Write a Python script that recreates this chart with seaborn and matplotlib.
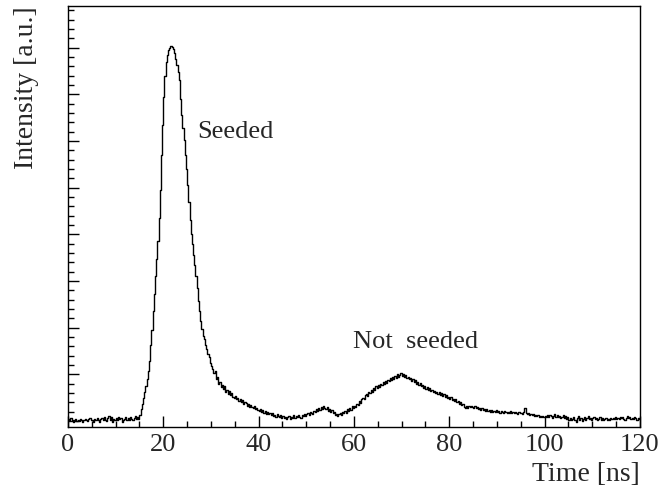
import numpy as np
import pandas as pd
import matplotlib
matplotlib.use("Agg")
import matplotlib.pyplot as plt
from matplotlib.ticker import MultipleLocator, NullFormatter
import seaborn as sns

# Time binning: 0.25 ns bins from 0 to 120 ns
bin_width = 0.25
t_min, t_max = 0.0, 120.0

# Measured intensity per bin [a.u.], one row per 5 ns (20 bins)
intensity = [
    # 0-15 ns: baseline
    0.04, 0.01, 0.06, 0.02, -0.02, 0.03, 0.05, 0.00, 0.03, -0.01, 0.04, 0.02, -0.03, 0.01, 0.05, 0.02, 0.00, 0.04, 0.06, 0.01,
    0.03, -0.02, 0.05, 0.02, 0.07, 0.01, -0.03, 0.04, 0.06, 0.02, 0.09, 0.03, 0.00, 0.07, 0.10, 0.02, 0.08, -0.02, 0.05, 0.01,
    0.06, 0.02, 0.09, 0.04, 0.07, -0.03, 0.01, 0.05, 0.08, 0.02, 0.06, 0.03, 0.09, 0.05, 0.02, 0.07, 0.11, 0.04, 0.08, 0.05,
    # 15-30 ns: seeded pulse
    0.12, 0.26, 0.36, 0.50, 0.62, 0.75, 0.90, 1.08, 1.28, 1.62, 1.95, 2.35, 2.72, 3.10, 3.48, 3.85, 4.35, 4.95, 5.70, 6.35,
    6.95, 7.40, 7.70, 7.85, 7.94, 8.00, 8.03, 8.01, 7.96, 7.88, 7.76, 7.62, 7.48, 7.30, 6.90, 6.55, 6.28, 6.02, 5.70, 5.40,
    5.05, 4.70, 4.30, 4.00, 3.80, 3.55, 3.35, 3.10, 2.85, 2.58, 2.35, 2.15, 1.98, 1.82, 1.75, 1.62, 1.55, 1.44, 1.36, 1.25,
    # 30-40 ns: tail
    1.18, 1.12, 1.02, 1.06, 0.90, 0.95, 0.80, 0.84, 0.72, 0.78, 0.68, 0.74, 0.63, 0.67, 0.58, 0.64, 0.55, 0.60, 0.52, 0.49,
    0.53, 0.46, 0.50, 0.43, 0.47, 0.40, 0.44, 0.36, 0.41, 0.38, 0.33, 0.37, 0.30, 0.34, 0.29, 0.27, 0.32, 0.25, 0.28, 0.24,
    # 40-60 ns
    0.22, 0.26, 0.19, 0.23, 0.17, 0.21, 0.15, 0.19, 0.14, 0.17, 0.12, 0.16, 0.10, 0.13, 0.09, 0.14, 0.11, 0.08, 0.12, 0.07,
    0.10, 0.06, 0.09, 0.04, 0.08, 0.11, 0.05, 0.09, 0.07, 0.12, 0.06, 0.10, 0.08, 0.13, 0.09, 0.07, 0.12, 0.10, 0.15, 0.11,
    0.14, 0.18, 0.13, 0.20, 0.17, 0.15, 0.22, 0.19, 0.25, 0.21, 0.27, 0.24, 0.30, 0.26, 0.32, 0.28, 0.25, 0.29, 0.22, 0.26,
    0.20, 0.23, 0.16, 0.19, 0.12, 0.15, 0.10, 0.14, 0.17, 0.12, 0.20, 0.16, 0.22, 0.18, 0.25, 0.21, 0.28, 0.24, 0.31, 0.27,
    # 60-90 ns: not seeded pulse
    0.33, 0.29, 0.37, 0.34, 0.42, 0.38, 0.46, 0.50, 0.47, 0.55, 0.58, 0.54, 0.62, 0.60, 0.66, 0.63, 0.70, 0.67, 0.74, 0.71,
    0.76, 0.73, 0.80, 0.77, 0.83, 0.79, 0.86, 0.82, 0.88, 0.85, 0.91, 0.87, 0.94, 0.90, 0.97, 0.92, 1.00, 0.95, 0.98, 1.02,
    0.97, 1.00, 0.94, 0.98, 0.92, 0.95, 0.89, 0.93, 0.86, 0.90, 0.83, 0.87, 0.80, 0.84, 0.78, 0.81, 0.74, 0.77, 0.71, 0.74,
    0.69, 0.72, 0.66, 0.70, 0.64, 0.67, 0.62, 0.65, 0.60, 0.63, 0.58, 0.61, 0.56, 0.59, 0.54, 0.57, 0.51, 0.55, 0.49, 0.52,
    0.48, 0.51, 0.45, 0.48, 0.42, 0.46, 0.40, 0.43, 0.37, 0.40, 0.34, 0.36, 0.30, 0.27, 0.31, 0.28, 0.32, 0.29, 0.33, 0.30,
    0.28, 0.31, 0.27, 0.30, 0.25, 0.28, 0.24, 0.27, 0.23, 0.26, 0.22, 0.25, 0.21, 0.24, 0.20, 0.23, 0.19, 0.22, 0.20, 0.23,
    # 90-120 ns
    0.19, 0.22, 0.18, 0.21, 0.20, 0.17, 0.21, 0.19, 0.16, 0.20, 0.18, 0.21, 0.17, 0.19, 0.16, 0.20, 0.18, 0.15, 0.19, 0.16,
    0.18, 0.15, 0.19, 0.28, 0.17, 0.14, 0.16, 0.13, 0.15, 0.12, 0.14, 0.11, 0.13, 0.10, 0.12, 0.09, 0.11, 0.08, 0.10, 0.09,
    0.11, 0.08, 0.12, 0.09, 0.13, 0.10, 0.07, 0.11, 0.14, 0.09, 0.12, 0.08, 0.10, 0.06, 0.09, 0.12, 0.07, 0.10, 0.05, 0.08,
    0.03, 0.07, 0.01, 0.05, 0.09, 0.02, -0.02, 0.06, 0.10, 0.03, 0.07, 0.00, 0.04, 0.08, 0.02, 0.06, 0.11, 0.04, 0.07, 0.03,
    0.06, 0.09, 0.04, 0.07, 0.02, 0.05, 0.08, 0.03, 0.06, 0.01, 0.04, 0.07, 0.02, 0.05, 0.03, 0.06, 0.04, 0.07, 0.05, 0.08,
    0.05, 0.07, 0.04, 0.08, 0.06, 0.09, 0.05, 0.03, 0.07, 0.10, 0.06, 0.08, 0.04, 0.07, 0.05, 0.09, 0.06, 0.03, 0.07, 0.05,
]

x_ticks = [0, 20, 40, 60, 80, 100, 120]
x_label = "Time [ns]"
y_label = "Intensity [a.u.]"
annotations = [("Seeded", 27.1, 6.2), ("Not  seeded", 59.8, 1.7)]

n_bins = len(intensity)
centers = t_min + bin_width * (np.arange(n_bins) + 0.5)
df = pd.DataFrame({"time": centers, "intensity": intensity})

sns.set_style("white")
plt.rcParams["font.family"] = ["Liberation Serif", "DejaVu Serif"]

fig = plt.figure(figsize=(6.58, 4.94), dpi=100)
ax = fig.add_axes([0.1033, 0.1356, 0.8693, 0.8523])

sns.histplot(data=df, x="time", weights="intensity",
             binwidth=bin_width, binrange=(t_min, t_min + n_bins * bin_width),
             element="step", fill=False, color="black", linewidth=1.0, ax=ax)

ax.set_xlim(t_min, t_max)
ax.set_ylim(-0.13, 8.89)

ax.xaxis.set_minor_locator(MultipleLocator(5))
ax.yaxis.set_major_locator(MultipleLocator(1))
ax.yaxis.set_minor_locator(MultipleLocator(0.2))
ax.yaxis.set_major_formatter(NullFormatter())
ax.set_xticks(x_ticks)
ax.set_xticklabels([str(v) for v in x_ticks], fontsize=19)

ax.tick_params(axis="both", which="major", direction="in", length=8, width=1.0,
               color="black", top=False, right=False, left=True, bottom=True)
ax.tick_params(axis="both", which="minor", direction="in", length=4, width=1.0,
               color="black", top=False, right=False, left=True, bottom=True)
ax.tick_params(axis="x", which="major", pad=5)

for side in ["left", "right", "top", "bottom"]:
    ax.spines[side].set_visible(True)
    ax.spines[side].set_color("black")
    ax.spines[side].set_linewidth(1.0)

ax.set_xlabel(x_label, fontsize=20, loc="right", labelpad=4)
ax.set_ylabel(y_label, fontsize=20, loc="top", labelpad=17)

for label, tx, ty in annotations:
    ax.text(tx, ty, label, fontsize=19, ha="left", va="center")

fig.savefig("out.png", dpi=100)
